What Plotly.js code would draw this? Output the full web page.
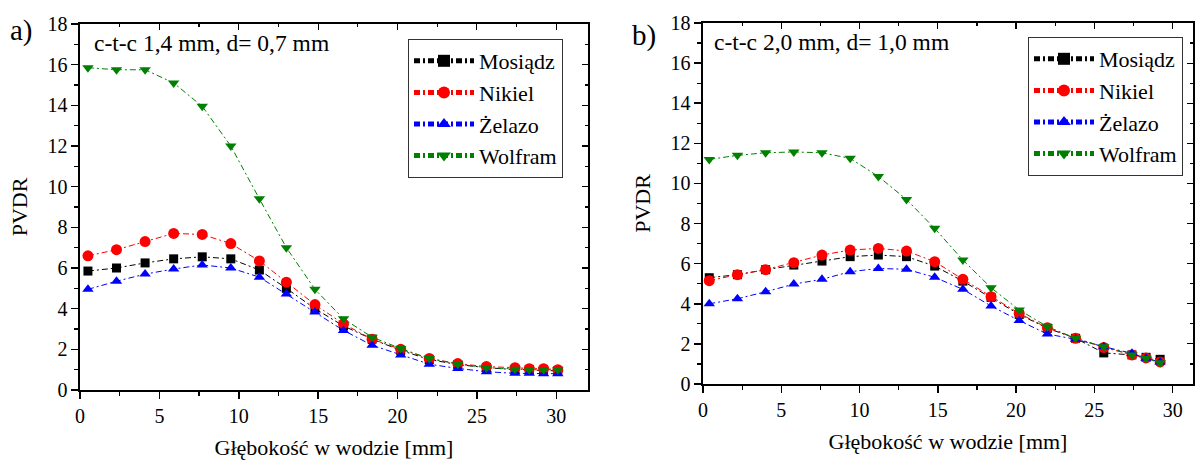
<!DOCTYPE html>
<html>
<head>
<meta charset="utf-8">
<script src="https://cdn.plot.ly/plotly-3.0.1.min.js"></script>
<style>html,body{margin:0;padding:0;background:#fff;}#chart{width:1195px;height:464px;}</style>
</head>
<body>
<div id="chart"></div>
<script>
// ---- data ----
const seriesNames = ["Mosiądz", "Nikiel", "Żelazo", "Wolfram"];

// panel a) c-t-c 1,4 mm, d= 0,7 mm
const depthA = [0.5, 2.3, 4.1, 5.9, 7.7, 9.5, 11.3, 13.0, 14.8, 16.6, 18.4, 20.2, 22.0, 23.8, 25.6, 27.4, 28.3, 29.2, 30.1];
const mosiadzA = [5.85, 6.0, 6.25, 6.45, 6.55, 6.45, 5.9, 5.0, 4.0, 3.15, 2.5, 1.95, 1.5, 1.25, 1.1, 1.0, 1.0, 0.95, 0.95];
const nikielA  = [6.6, 6.9, 7.3, 7.7, 7.65, 7.2, 6.35, 5.3, 4.2, 3.25, 2.5, 2.0, 1.55, 1.3, 1.15, 1.1, 1.05, 1.05, 1.0];
const zelazoA  = [4.95, 5.35, 5.7, 5.95, 6.15, 6.0, 5.55, 4.72, 3.83, 2.93, 2.2, 1.72, 1.27, 1.06, 0.9, 0.82, 0.82, 0.8, 0.8];
const wolframA = [15.85, 15.75, 15.75, 15.1, 13.95, 12.0, 9.4, 7.0, 4.95, 3.5, 2.6, 2.04, 1.55, 1.27, 1.1, 1.02, 1.0, 1.0, 1.0];

// panel b) c-t-c 2,0 mm, d= 1,0 mm
const depthB = [0.4, 2.2, 4.0, 5.8, 7.6, 9.4, 11.2, 13.0, 14.8, 16.6, 18.4, 20.2, 22.0, 23.8, 25.6, 27.4, 28.3, 29.2];
const mosiadzB = [5.3, 5.45, 5.7, 5.93, 6.13, 6.35, 6.43, 6.35, 5.88, 5.13, 4.32, 3.47, 2.78, 2.28, 1.55, 1.45, 1.33, 1.23];
const nikielB  = [5.15, 5.45, 5.7, 6.05, 6.43, 6.68, 6.76, 6.63, 6.1, 5.22, 4.35, 3.52, 2.8, 2.28, 1.82, 1.45, 1.3, 1.1];
const zelazoB  = [4.0, 4.25, 4.6, 4.98, 5.22, 5.6, 5.76, 5.72, 5.32, 4.72, 3.89, 3.16, 2.49, 2.23, 1.86, 1.53, 1.28, 1.1];
const wolframB = [11.2, 11.4, 11.53, 11.57, 11.53, 11.25, 10.35, 9.2, 7.76, 6.18, 4.8, 3.69, 2.86, 2.28, 1.86, 1.45, 1.28, 1.06];

const panelLabels = ["a)", "b)"];
const panelNotes = ["c-t-c 1,4 mm, d= 0,7 mm", "c-t-c 2,0 mm, d= 1,0 mm"];
const xTitle = "Głębokość w wodzie [mm]";
const yTitle = "PVDR";

// ---- styles ----
const FONT = "Liberation Serif";
const styles = [
  {color: "#000000", symbol: "square", size: 9},
  {color: "#ff0000", symbol: "circle", size: 11},
  {color: "#0000ff", symbol: "triangle-up", size: 10},
  {color: "#008000", symbol: "triangle-down", size: 10}
];
const DASH = "6px,3px,2px,3px";

function mk(x, y, i, xa, ya, leg) {
  return {
    x: x, y: y, type: "scatter", mode: "lines+markers",
    name: seriesNames[i], xaxis: xa, yaxis: ya, legend: leg,
    line: {color: styles[i].color, width: 1, dash: DASH},
    marker: {color: styles[i].color, symbol: styles[i].symbol, size: styles[i].size, line: {width: 0}},
    hoverinfo: "skip"
  };
}

const dataA = [mosiadzA, nikielA, zelazoA, wolframA];
const dataB = [mosiadzB, nikielB, zelazoB, wolframB];
const traces = [];
dataA.forEach((s, i) => traces.push(mk(depthA, s, i, "x", "y", "legend")));
dataB.forEach((s, i) => traces.push(mk(depthB, s, i, "x2", "y2", "legend2")));
// dummy traces to activate mirrored inner-tick axes
traces.push({x: [null], y: [null], xaxis: "x3", yaxis: "y3", showlegend: false, mode: "markers", hoverinfo: "skip"});
traces.push({x: [null], y: [null], xaxis: "x4", yaxis: "y4", showlegend: false, mode: "markers", hoverinfo: "skip"});

const W = 1195, H = 464;
const domA = {x: [80 / W, 588 / W], y: [(H - 390) / H, (H - 24) / H]};
const domB = {x: [703 / W, 1193 / W], y: [(H - 384) / H, (H - 23) / H]};
const rangeXA = [0, 32], rangeXB = [0, 31.3], rangeY = [0, 18];

function xAx(dom, range, anchor) {
  return {
    domain: dom, range: range, anchor: anchor, dtick: 5, tick0: 0,
    ticks: "outside", ticklen: 7, tickwidth: 1.5, tickcolor: "#000",
    minor: {dtick: 2.5, tick0: 0, ticks: "outside", ticklen: 4, tickwidth: 1.2, tickcolor: "#000", showgrid: false},
    showline: true, linecolor: "#000", linewidth: 1.6, mirror: true,
    showgrid: false, zeroline: false,
    tickfont: {family: FONT, size: 20, color: "#000"},
    title: {text: xTitle, font: {family: FONT, size: 22, color: "#000"}, standoff: 14}
  };
}
function yAx(dom, anchor) {
  return {
    domain: dom, range: rangeY, anchor: anchor, dtick: 2, tick0: 0,
    ticks: "outside", ticklen: 7, tickwidth: 1.5, tickcolor: "#000",
    minor: {dtick: 1, tick0: 0, ticks: "outside", ticklen: 4, tickwidth: 1.2, tickcolor: "#000", showgrid: false},
    showline: true, linecolor: "#000", linewidth: 1.6, mirror: true,
    showgrid: false, zeroline: false,
    tickfont: {family: FONT, size: 20, color: "#000"},
    title: {text: yTitle, font: {family: FONT, size: 22, color: "#000"}, standoff: 14}
  };
}
function xTop(dom, range, overlay, anchor) {
  return {
    domain: dom, range: range, overlaying: overlay, anchor: anchor, side: "top",
    dtick: 5, tick0: 0, ticks: "inside", ticklen: 6, tickwidth: 1.2, tickcolor: "#000",
    minor: {dtick: 2.5, tick0: 0, ticks: "inside", ticklen: 3, tickcolor: "#000", showgrid: false},
    showticklabels: false, showline: false, showgrid: false, zeroline: false
  };
}
function yRight(dom, overlay, anchor) {
  return {
    domain: dom, range: rangeY, overlaying: overlay, anchor: anchor, side: "right",
    dtick: 2, tick0: 0, ticks: "inside", ticklen: 6, tickwidth: 1.2, tickcolor: "#000",
    minor: {dtick: 1, tick0: 0, ticks: "inside", ticklen: 3, tickcolor: "#000", showgrid: false},
    showticklabels: false, showline: false, showgrid: false, zeroline: false
  };
}

function legendAt(x, y) {
  return {
    x: x, y: y, xref: "paper", yref: "paper", xanchor: "left", yanchor: "top",
    bgcolor: "#fff", bordercolor: "#333", borderwidth: 1,
    font: {family: FONT, size: 22, color: "#000"},
    tracegroupgap: 0, itemsizing: "constant", traceorder: "normal", itemwidth: 60
  };
}

const layout = {
  width: W, height: H,
  margin: {l: 0, r: 0, t: 0, b: 0},
  paper_bgcolor: "#fff", plot_bgcolor: "#fff",
  font: {family: FONT, color: "#000"},
  showlegend: true,
  xaxis: xAx(domA.x, rangeXA, "y"),
  yaxis: yAx(domA.y, "x"),
  xaxis2: xAx(domB.x, rangeXB, "y2"),
  yaxis2: yAx(domB.y, "x2"),
  xaxis3: xTop(domA.x, rangeXA, "x", "y3"),
  yaxis3: yRight(domA.y, "y", "x3"),
  xaxis4: xTop(domB.x, rangeXB, "x2", "y4"),
  yaxis4: yRight(domB.y, "y2", "x4"),
  legend: legendAt(408 / W, (H - 39) / H),
  legend2: legendAt(1028 / W, (H - 37) / H),
  annotations: [
    {text: panelLabels[0], xref: "paper", yref: "paper", x: 8 / W, y: (H - 30) / H, xanchor: "left", yanchor: "middle", showarrow: false, font: {family: FONT, size: 29, color: "#000"}},
    {text: panelLabels[1], xref: "paper", yref: "paper", x: 630 / W, y: (H - 35) / H, xanchor: "left", yanchor: "middle", showarrow: false, font: {family: FONT, size: 29, color: "#000"}},
    {text: panelNotes[0], xref: "paper", yref: "paper", x: 92 / W, y: (H - 43) / H, xanchor: "left", yanchor: "middle", showarrow: false, font: {family: FONT, size: 23.5, color: "#000"}},
    {text: panelNotes[1], xref: "paper", yref: "paper", x: 712 / W, y: (H - 42) / H, xanchor: "left", yanchor: "middle", showarrow: false, font: {family: FONT, size: 23.5, color: "#000"}}
  ]
};

Plotly.newPlot("chart", traces, layout, {staticPlot: true, displayModeBar: false});
</script>
</body>
</html>
